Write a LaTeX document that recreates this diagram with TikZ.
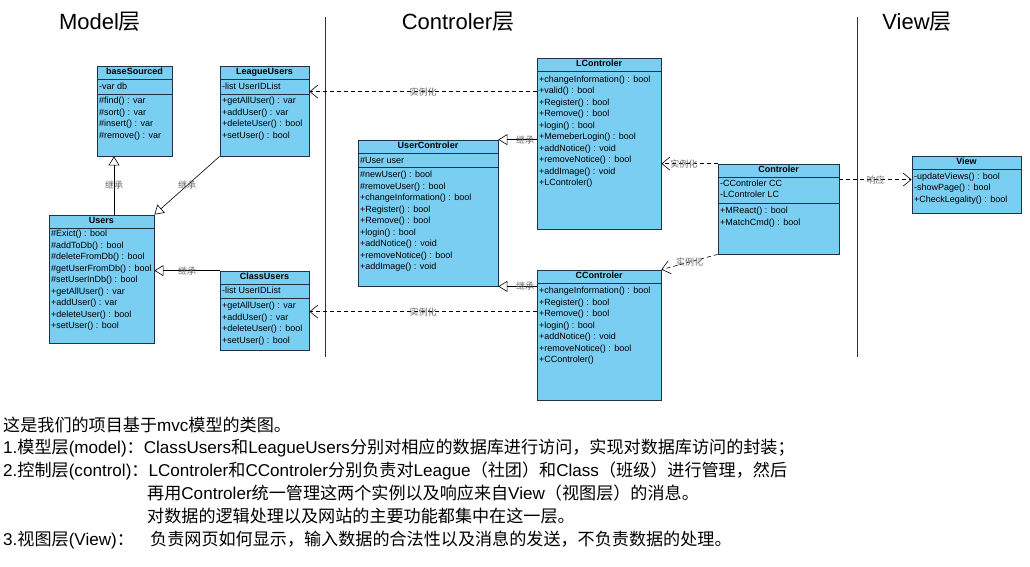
\documentclass[tikz,border=0pt]{standalone}
\usepackage{fontspec}
\setmainfont{Liberation Sans}
\newfontfamily\cjk{Noto Sans CJK SC}
\newfontfamily\lat{Liberation Sans}
\usetikzlibrary{arrows.meta,fit,positioning}
\definecolor{clsfill}{RGB}{122,206,242}
\definecolor{clsline}{RGB}{34,50,68}
\tikzset{
  clsbox/.style={draw=clsline,fill=clsfill,line width=0.8pt,inner sep=0pt},
  cname/.style={font=\bfseries\fontsize{9}{10}\selectfont,inner sep=0pt,text height=7pt,text depth=2pt,minimum height=13pt},
  clist/.style={font=\fontsize{9}{11.5}\selectfont,anchor=north west,align=left,inner sep=0pt},
  inherit/.style={draw=black,line width=0.6pt,-{Triangle[open,length=9pt,width=11pt]}},
  inst/.style={draw=black,line width=0.6pt,dash pattern=on 4pt off 3pt,-{Straight Barb[length=8pt,width=13pt]}},
  lbl/.style={font=\cjk\fontsize{9}{9}\selectfont,text=black!60,inner sep=1pt},
  ttl/.style={font=\fontsize{22}{22}\selectfont},
  txt/.style={font=\cjk\fontsize{17.1}{23}\selectfont,anchor=base west,inner sep=0pt}
}
% class box: name, x1, y1, x2, y2, title
\newcommand{\umlcls}[6]{
  \node[clsbox,fit={(#2,#3) (#4,#5)}] (#1) {};
  \node[cname,below=0pt of #1.north] {#6};
  \draw[clsline,line width=0.8pt] (#2,#3+13) -- (#4,#3+13);}
\newcommand{\divline}[3]{\draw[clsline,line width=0.8pt] (#1,#3) -- (#2,#3);}

\begin{document}
\begin{tikzpicture}[x=1pt,y=-1pt]
\useasboundingbox[fill=white] (0,0) rectangle (1030,566);
% layers
\node[ttl] at (100,22) {Model{\cjk 层}};
\node[ttl] at (458,22) {Controler{\cjk 层}};
\node[ttl] at (917,22) {View{\cjk 层}};
\draw[black!80,line width=0.7pt] (325,17) -- (325,357);
\draw[black!80,line width=0.7pt] (857,17) -- (857,357);

% model
\umlcls{base}{97}{66}{172}{156}{baseSourced}
\divline{97}{172}{94}
\node[clist] at (99,83) {-var db};
\node[clist] at (99,97) {\#find() : var\\\#sort() : var\\\#insert() : var\\\#remove() : var};

\umlcls{league}{220}{66}{309}{156}{LeagueUsers}
\divline{220}{309}{94}
\node[clist] at (222,83) {-list UserIDList};
\node[clist] at (222,97) {+getAllUser() : var\\+addUser() : var\\+deleteUser() : bool\\+setUser() : bool};

\umlcls{users}{49}{215}{154}{343}{Users}
\node[clist] at (51,230) {\#Exict() : bool\\\#addToDb() : bool\\\#deleteFromDb() : bool\\\#getUserFromDb() : bool\\\#setUserInDb() : bool\\+getAllUser() : var\\+addUser() : var\\+deleteUser() : bool\\+setUser() : bool};

\umlcls{classu}{220}{271}{309}{350}{ClassUsers}
\divline{220}{309}{298}
\node[clist] at (222,287) {-list UserIDList};
\node[clist] at (222,302) {+getAllUser() : var\\+addUser() : var\\+deleteUser() : bool\\+setUser() : bool};

% controler
\umlcls{uctrl}{358}{140}{498}{286}{UserControler}
\divline{358}{498}{167}
\node[clist] at (360,157) {\#User user};
\node[clist] at (360,171) {\#newUser() : bool\\\#removeUser() : bool\\+changeInformation() : bool\\+Register() : bool\\+Remove() : bool\\+login() : bool\\+addNotice() : void\\+removeNotice() : bool\\+addImage() : void};

\umlcls{lctrl}{537}{58}{661}{229}{LControler}
\node[clist] at (539,75.5) {+changeInformation() : bool\\+valid() : bool\\+Register() : bool\\+Remove() : bool\\+login() : bool\\+MemeberLogin() : bool\\+addNotice() : void\\+removeNotice() : bool\\+addImage() : void\\+LControler()};

\umlcls{cctrl}{537}{270}{661}{400}{CControler}
\node[clist] at (539,287) {+changeInformation() : bool\\+Register() : bool\\+Remove() : bool\\+login() : bool\\+addNotice() : void\\+removeNotice() : bool\\+CControler()};

\umlcls{ctrl}{718}{164}{839}{254}{Controler}
\divline{718}{839}{203}
\node[clist] at (720,179.5) {-CControler CC\\-LControler LC};
\node[clist] at (720,207) {+MReact() : bool\\+MatchCmd() : bool};

% view
\umlcls{view}{912}{156}{1021}{213}{View}
\node[clist] at (914,172.5) {-updateViews() : bool\\-showPage() : bool\\+CheckLegality() : bool};

% connectors
\draw[inherit] ([xshift=12.5pt]users.north) -- ([xshift=12.5pt]users.north |- base.south) node[lbl,midway] {继承};
\draw[inherit] (league.south west) -- (users.north east) node[lbl,midway] {继承};
\draw[inherit] (classu.north west) -- (users.east |- classu.north west) node[lbl,midway] {继承};
\draw[inherit] (lctrl.west |- uctrl.north east) -- (uctrl.north east) node[lbl,pos=0.3] {继承};
\draw[inherit] (cctrl.west |- uctrl.south east) -- (uctrl.south east) node[lbl,pos=0.3] {继承};
\path ([yshift=-34pt]lctrl.north west) coordinate (l1) ([yshift=-42pt]cctrl.north west) coordinate (c1)
      ([yshift=-16pt]ctrl.north east) coordinate (v1);
\draw[inst] (l1) -- (l1 -| league.east) node[lbl,midway] {实例化};
\draw[inst] (c1) -- (c1 -| classu.east) node[lbl,midway] {实例化};
\draw[inst] (ctrl.north west) -- (ctrl.north west -| lctrl.east) node[lbl,pos=0.6] {实例化};
\draw[inst] (ctrl.south west) -- (cctrl.north east) node[lbl,midway] {实例化};
\draw[inst] (v1) -- (v1 -| view.west) node[lbl,midway] {响应};

% notes
\node[txt] (t1) at (3,431) {这是我们的项目基于{\lat mvc}模型的类图。};
\node[txt] (t2) at (3,453) {{\lat 1.}模型层{\lat (model)}：{\lat ClassUsers}和{\lat LeagueUsers}分别对相应的数据库进行访问，实现对数据库访问的封装；};
\node[txt] (t3) at (3,476) {{\lat 2.}控制层{\lat (control)}：{\lat LControler}和{\lat CControler}分别负责对{\lat League}（社团）和{\lat Class}（班级）进行管理，然后};
\node[txt] (t4) at (147,499) {再用{\lat Controler}统一管理这两个实例以及响应来自{\lat View}（视图层）的消息。};
\node[txt] (t5) at (147,522) {对数据的逻辑处理以及网站的主要功能都集中在这一层。};
\node[txt] (t6) at (3,545) {{\lat 3.}视图层{\lat (View)}：};
\node[txt] (t7) at (150,545) {负责网页如何显示，输入数据的合法性以及消息的发送，不负责数据的处理。};
\end{tikzpicture}
\end{document}
